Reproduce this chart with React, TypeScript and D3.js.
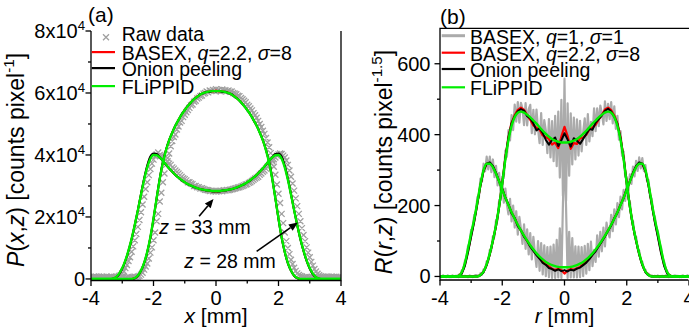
import { useRef, useEffect } from 'react';
import * as d3 from 'd3';

const W = 689;
const H = 333;
const FONT = '"Liberation Sans", Arial, Helvetica, sans-serif';
const FS = 20;

const GREEN = '#00ee00';
const RED = '#ff0000';
const GRAY_RAW = '#a0a0a0';
const GRAY_LINE = '#ababab';

// every series is sampled on x = -4 + i * step
const FIT_STEP = 0.1;
const RAW_STEP = 0.05;

const xTicks = [-4, -2, 0, 2, 4];
const xMinor = [-3, -1, 1, 3];

// ---------- panel (a): P(x,z), in units of 1e4 counts/pixel ----------
const aTicksY = [0, 2, 4, 6, 8];
const aMinorY = [1, 3, 5, 7];

const pInnerRaw = [
  0.05,0.03,0.07,0.04,0.06,0.08,0.03,0.05,0.07,0.04,0.06,0.02,0.05,0.08,0.04,0.06,0.03,0.07,0.05,0.04,0.08,0.06,0.03,0.05,0.07,0.04,0.06,0.05,0.07,
  0.06,0.08,0.1,0.14,0.2,0.3,0.4,0.5,0.66,0.85,
  1.02,1.25,1.5,1.86,2.1,2.5,2.78,3.12,3.4,3.68,
  3.9,4.05,4.28,4.45,4.58,4.66,4.82,4.92,5.05,5.1,
  5.22,5.3,5.38,5.45,5.52,5.6,5.63,5.72,5.75,5.82,
  5.85,5.9,5.92,5.98,6,6.05,6.02,6.08,6.06,6.1,
  6.07,6.12,6.08,6.1,6.05,6.11,6.07,6.09,6.06,6.08,
  6.04,6.05,6,5.98,5.96,5.91,5.9,5.84,5.8,5.75,
  5.7,5.62,5.57,5.5,5.44,5.35,5.28,5.2,5.1,5,
  4.9,4.78,4.68,4.55,4.4,4.25,4.06,3.85,3.62,3.36,
  3.05,2.75,2.45,2.1,1.8,1.5,1.22,1,0.8,0.62,
  0.48,0.36,0.26,0.18,0.13,0.1,0.08,
  0.06,0.05,0.07,0.04,0.06,0.03,0.05,0.08,0.04,0.06,0.05,0.03,0.07,0.05,0.04,0.06,0.08,0.05,0.03,0.06,0.04,0.07,0.05,0.06,0.04,
];
const pOuterRaw = [
  0.04,0.06,0.05,0.08,0.03,0.06,0.05,0.07,0.04,0.06,0.08,0.05,0.03,0.06,0.05,0.07,
  0.07,0.06,0.1,0.12,0.18,0.25,0.35,0.45,0.58,0.7,
  0.88,1.05,1.25,1.45,1.68,1.9,2.15,2.4,2.65,2.9,
  3.12,3.35,3.55,3.72,3.85,3.96,4.02,4.08,4,3.98,
  3.95,3.9,3.85,3.8,3.72,3.68,3.6,3.56,3.5,3.45,
  3.4,3.35,3.3,3.25,3.22,3.18,3.12,3.12,3.08,3.06,
  3,3,2.96,2.96,2.92,2.93,2.9,2.88,2.87,2.86,
  2.84,2.85,2.83,2.84,2.82,2.84,2.83,2.85,2.83,2.86,
  2.85,2.87,2.86,2.88,2.89,2.9,2.92,2.93,2.95,2.96,
  2.98,3,3.02,3.05,3.06,3.1,3.12,3.16,3.2,3.24,
  3.27,3.3,3.36,3.4,3.46,3.5,3.56,3.62,3.68,3.75,
  3.8,3.86,3.92,3.98,4.02,4.05,4.03,3.98,3.92,3.82,
  3.68,3.5,3.3,3.08,2.85,2.6,2.35,2.1,1.86,1.64,
  1.42,1.22,1.02,0.85,0.7,0.55,0.43,0.32,0.24,0.17,
  0.12,0.09,0.07,
  0.05,0.07,0.04,0.06,0.05,0.08,0.03,0.06,0.05,0.04,0.07,0.05,
];

const pInnerBasex = [
  0,0,0,0,0,0,0,0,0,0,0,0,0,0,
  0.03,0.1,0.27,0.51,0.87,1.34,1.94,2.6,3.23,3.76,4.16,4.47,4.73,4.94,5.14,5.3,5.46,5.58,5.71,5.8,5.89,5.95,6.01,6.03,6.06,6.05,
  6.08,
  6.05,6.06,6.03,6.01,5.95,5.89,5.8,5.71,5.58,5.46,5.3,5.14,4.94,4.73,4.47,4.16,3.76,3.23,2.6,1.94,1.34,0.87,0.51,0.27,0.1,0.03,
  0,0,0,0,0,0,0,0,0,0,0,0,0,0,
];
const pOuterBasex = [
  0,0,0,0,0,0,0,
  0.01,0.06,0.16,0.34,0.59,0.91,1.29,1.74,2.22,2.73,3.22,3.63,3.92,4.03,4.01,3.92,3.81,3.69,3.57,3.46,3.36,3.27,3.19,3.12,3.06,3.01,2.97,2.93,2.9,2.88,2.86,2.84,2.83,
  2.82,
  2.83,2.84,2.86,2.88,2.9,2.93,2.97,3.01,3.06,3.12,3.19,3.27,3.36,3.46,3.57,3.69,3.81,3.92,4.01,4.03,3.92,3.63,3.22,2.73,2.22,1.74,1.29,0.91,0.59,0.34,0.16,0.06,0.01,
  0,0,0,0,0,0,0,
];
const pInnerOnion = [
  0,0,0,0,0,0,0,0,0,0,0,0,0,0,
  0.02,0.1,0.26,0.5,0.86,1.33,1.93,2.6,3.24,3.78,4.17,4.48,4.72,4.95,5.12,5.31,5.44,5.59,5.69,5.81,5.87,5.96,5.99,6.04,6.03,6.07,
  6.05,
  6.07,6.03,6.04,5.99,5.96,5.87,5.81,5.69,5.59,5.44,5.31,5.12,4.95,4.72,4.48,4.17,3.78,3.24,2.6,1.93,1.33,0.86,0.5,0.26,0.1,0.02,
  0,0,0,0,0,0,0,0,0,0,0,0,0,0,
];
const pOuterOnion = [
  0,0,0,0,0,0,0,
  0.01,0.05,0.15,0.33,0.58,0.9,1.28,1.73,2.22,2.74,3.24,3.66,3.95,4.05,4.03,3.93,3.8,3.68,3.56,3.46,3.35,3.27,3.18,3.12,3.05,3.01,2.96,2.93,2.89,2.88,2.85,2.85,2.82,
  2.83,
  2.82,2.85,2.85,2.88,2.89,2.93,2.96,3.01,3.05,3.12,3.18,3.27,3.35,3.46,3.56,3.68,3.8,3.93,4.03,4.05,3.95,3.66,3.24,2.74,2.22,1.73,1.28,0.9,0.58,0.33,0.15,0.05,0.01,
  0,0,0,0,0,0,0,
];
const pInnerFit = [
  0,0,0,0,0,0,0,0,0,0,0,0,0,0,
  0.03,0.11,0.27,0.52,0.88,1.35,1.95,2.6,3.22,3.75,4.15,4.47,4.72,4.94,5.13,5.3,5.45,5.58,5.7,5.8,5.88,5.95,6,6.03,6.05,6.06,
  6.06,
  6.06,6.05,6.03,6,5.95,5.88,5.8,5.7,5.58,5.45,5.3,5.13,4.94,4.72,4.47,4.15,3.75,3.22,2.6,1.95,1.35,0.88,0.52,0.27,0.11,0.03,
  0,0,0,0,0,0,0,0,0,0,0,0,0,0,
];
const pOuterFit = [
  0,0,0,0,0,0,0,
  0.01,0.06,0.17,0.35,0.6,0.92,1.3,1.74,2.22,2.72,3.2,3.6,3.88,4,3.99,3.92,3.81,3.69,3.57,3.46,3.36,3.27,3.19,3.12,3.06,3.01,2.97,2.93,2.9,2.88,2.86,2.85,2.84,
  2.84,
  2.84,2.85,2.86,2.88,2.9,2.93,2.97,3.01,3.06,3.12,3.19,3.27,3.36,3.46,3.57,3.69,3.81,3.92,3.99,4,3.88,3.6,3.2,2.72,2.22,1.74,1.3,0.92,0.6,0.35,0.17,0.06,0.01,
  0,0,0,0,0,0,0,
];

// ---------- panel (b): R(r,z), counts/pixel^1.5 ----------
const bTicksY = [0, 200, 400, 600];
const bMinorY = [100, 300, 500];

const rBigGray = [
  2,-1,3,0,-2,2,1,-2,3,0,-1,2,-2,1,3,-1,2,0,-2,3,1,-2,2,4,
  3,0,9,5,20,20,43,44,75,75,
  114,113,160,158,216,215,282,278,355,338,
  413,384,455,413,485,437,492,434,490,474,
  427,489,426,472,484,404,470,401,471,416,
  376,461,371,441,412,348,444,336,438,325,
  453,311,465,279,498,228,558,213,488,284,
  460,316,448,330,443,341,439,353,407,446,
  371,458,381,436,396,474,410,474,424,482,
  461,429,494,439,487,444,492,432,480,416,
  453,386,410,340,352,281,280,218,213,160,
  157,115,112,77,73,45,41,21,19,6,
  8,1,3,
  -1,2,0,3,-2,1,2,-1,3,0,-2,2,1,-1,3,0,2,-2,1,3,0,-1,2,1,
];
const rRingGray = [
  1,-2,2,0,-1,3,-2,1,2,-1,
  2,-1,5,3,17,20,44,52,86,94,
  132,134,174,176,224,223,276,268,318,297,
  338,302,338,294,330,280,312,257,292,232,
  270,208,248,203,175,219,155,200,138,184,
  118,168,135,92,147,78,133,62,122,48,
  112,65,27,100,16,94,6,88,1,83,
  -2,84,-4,90,-4,103,-3,136,-4,206,
  346,196,-4,126,-3,108,-3,85,-3,84,
  -2,83,1,86,8,92,18,98,29,75,
  41,116,56,126,71,138,85,152,125,110,
  174,128,189,147,207,167,225,189,244,213,
  267,236,288,261,310,282,326,298,336,305,
  334,298,314,270,272,225,220,178,170,136,
  128,95,83,53,42,21,15,4,4,0,
  2,
  -1,2,0,1,-2,2,1,-1,3,0,
];
const rBigBasex = [
  0,0,0,0,0,0,0,0,0,0,0,0,0,
  4,13,33,63,101,143,197,263,336,393,434,455,470,476,470,455,442,426,420,414,398,393,388,372,378,362,395,
  422,
  396,360,376,374,390,392,400,415,420,428,443,456,471,476,469,454,432,392,335,263,197,143,101,63,33,13,4,
  0,0,0,0,0,0,0,0,0,0,0,0,0,
];
const rRingBasex = [
  0,0,0,0,0,0,
  2,10,34,72,116,158,207,258,299,318,320,310,291,268,246,222,202,180,164,144,130,114,100,86,74,62,52,42,34,28,22,18,22,18,
  8,
  17,21,19,23,27,34,42,51,62,74,86,100,114,130,145,164,181,202,222,246,268,291,310,320,318,299,258,207,158,116,72,34,10,2,
  0,0,0,0,0,0,
];
const rBigOnion = [
  0,0,0,0,0,0,0,0,0,0,0,0,0,
  3,12,32,62,100,142,196,262,335,392,432,452,466,472,468,452,446,432,412,418,405,385,372,385,392,368,384,
  404,
  386,366,390,383,374,388,402,416,414,434,444,454,467,473,465,450,430,390,334,262,196,142,100,62,32,12,3,
  0,0,0,0,0,0,0,0,0,0,0,0,0,
];
const rRingOnion = [
  0,0,0,0,0,0,
  1,8,30,68,112,155,205,256,298,318,322,312,292,268,248,222,203,178,165,142,130,112,100,84,72,60,50,38,33,24,21,16,20,15,
  18,
  14,19,17,22,25,32,39,49,61,71,85,99,113,129,144,164,180,202,221,247,268,293,312,322,318,297,255,204,154,111,67,30,8,1,
  0,0,0,0,0,0,
];
const rBigFit = [
  0,0,0,0,0,0,0,0,0,0,0,0,0,
  4,14,35,65,102,145,198,262,330,385,425,450,462,465,462,456,449,440,431,421,411,402,394,388,383,380,378,
  378,
  378,380,383,388,394,402,411,421,431,440,449,456,462,465,462,450,425,385,330,262,198,145,102,65,35,14,4,
  0,0,0,0,0,0,0,0,0,0,0,0,0,
];
const rRingFit = [
  0,0,0,0,0,0,
  2,12,38,78,122,162,210,260,300,318,318,308,290,268,245,222,201,181,163,146,130,115,101,88,76,65,56,48,41,36,32,29,27,26,
  26,
  26,27,29,32,36,41,48,56,65,76,88,101,115,130,146,163,181,201,222,245,268,290,308,318,318,300,260,210,162,122,78,38,12,2,
  0,0,0,0,0,0,
];

// text pieces: [text, style] with '' plain, 'i' italic, 's' superscript
type Seg = [string, string];
const legendA: Seg[][] = [
  [['Raw data', '']],
  [['BASEX, ', ''], ['q', 'i'], ['=2.2, ', ''], ['σ', 'i'], ['=8', '']],
  [['Onion peeling', '']],
  [['FLiPPID', '']],
];
const legendB: Seg[][] = [
  [['BASEX, ', ''], ['q', 'i'], ['=1, ', ''], ['σ', 'i'], ['=1', '']],
  [['BASEX, ', ''], ['q', 'i'], ['=2.2, ', ''], ['σ', 'i'], ['=8', '']],
  [['Onion peeling', '']],
  [['FLiPPID', '']],
];
const titleYA: Seg[] = [['P', 'i'], ['(', ''], ['x', 'i'], [',', ''], ['z', 'i'], [') [counts pixel', ''], ['-1', 's'], [']', '']];
const titleYB: Seg[] = [['R', 'i'], ['(', ''], ['r', 'i'], [',', ''], ['z', 'i'], [') [counts pixel', ''], ['-1.5', 's'], [']', '']];
const titleXA: Seg[] = [['x', 'i'], [' [mm]', '']];
const titleXB: Seg[] = [['r', 'i'], [' [mm]', '']];

// arrows in panel (a) data units: tail -> head, label anchor
const notes = [
  { label: '33', tail: [-0.54, 2.02], head: [-0.08, 2.58], at: [-0.35, 1.45] },
  { label: '28', tail: [1.3, 0.89], head: [2.62, 1.82], at: [0.45, 0.35] },
];

function rich(text: any, segs: Seg[], fs: number) {
  let up = false;
  segs.forEach(([t, st]) => {
    const ts = text.append('tspan').text(t);
    if (st === 'i') ts.attr('font-style', 'italic');
    if (st === 's') {
      ts.attr('font-size', fs * 0.66).attr('dy', -fs * 0.42);
      up = true;
    } else if (up) {
      ts.attr('dy', fs * 0.42);
      up = false;
    }
  });
}

export default function App() {
  const ref = useRef<SVGSVGElement>(null);

  useEffect(() => {
    document.body.style.margin = '0';
    const svg = d3.select(ref.current);
    svg.selectAll('*').remove();
    svg.attr('font-family', FONT).attr('font-size', FS);

    const xa = d3.scaleLinear().domain([-4, 4]).range([91, 341]);
    const ya = d3.scaleLinear().domain([-0.05, 8]).range([280.5, 31]);
    const xb = d3.scaleLinear().domain([-4, 4]).range([440, 689]);
    const yb = d3.scaleLinear().domain([-10, 700]).range([280, 28.3]);

    const defs = svg.append('defs');
    defs.append('clipPath').attr('id', 'clipA').append('rect')
      .attr('x', xa(-4)).attr('y', ya(8)).attr('width', xa(4) - xa(-4)).attr('height', ya(-0.05) - ya(8));
    defs.append('clipPath').attr('id', 'clipB').append('rect')
      .attr('x', xb(-4)).attr('y', yb(700)).attr('width', xb(4) - xb(-4)).attr('height', yb(-10) - yb(700));

    const lineOf = (x: any, y: any, step: number, curve: any) =>
      d3.line<number>().x((_, i) => x(-4 + i * step)).y(d => y(d)).curve(curve);

    const draw = (g: any, d: string | null, color: string, w: number) =>
      g.append('path').attr('d', d).attr('fill', 'none').attr('stroke', color)
        .attr('stroke-width', w).attr('stroke-linejoin', 'round');

    // ---- panel (a) marks
    const ga = svg.append('g').attr('clip-path', 'url(#clipA)');
    const cross = (vals: number[]) => vals.map((v, i) => {
      const px = xa(-4 + i * RAW_STEP), py = ya(v), s = 3;
      return `M${px - s},${py - s}L${px + s},${py + s}M${px - s},${py + s}L${px + s},${py - s}`;
    }).join('');
    ga.append('path').attr('d', cross(pOuterRaw) + cross(pInnerRaw))
      .attr('stroke', GRAY_RAW).attr('stroke-width', 1.3).attr('fill', 'none');

    const fitA = lineOf(xa, ya, FIT_STEP, d3.curveMonotoneX);
    [pOuterBasex, pInnerBasex].forEach(s => draw(ga, fitA(s), RED, 2));
    [pOuterOnion, pInnerOnion].forEach(s => draw(ga, fitA(s), '#000', 2));
    [pOuterFit, pInnerFit].forEach(s => draw(ga, fitA(s), GREEN, 2.4));

    // ---- panel (b) marks
    const gb = svg.append('g').attr('clip-path', 'url(#clipB)');
    const rawB = lineOf(xb, yb, RAW_STEP, d3.curveLinear);
    const wig = lineOf(xb, yb, FIT_STEP, d3.curveLinear);
    const fitB = lineOf(xb, yb, FIT_STEP, d3.curveMonotoneX);
    [rRingGray, rBigGray].forEach(s => draw(gb, rawB(s), GRAY_LINE, 2.2));
    [rRingBasex, rBigBasex].forEach(s => draw(gb, wig(s), RED, 2.2));
    [rRingOnion, rBigOnion].forEach(s => draw(gb, wig(s), '#000', 2));
    [rRingFit, rBigFit].forEach(s => draw(gb, fitB(s), GREEN, 2.4));

    // ---- axes
    const frame = (d: string) => svg.append('path').attr('d', d).attr('fill', 'none')
      .attr('stroke', '#000').attr('stroke-width', 1.3);
    frame(`M${xa(-4)},${ya(8)}V${ya(-0.05)}H${xa(4)}V${ya(8)}`);
    frame(`M${xb(4) - 0.7},${yb(-10)}H${xb(-4)}V${yb(700)}H${xb(4)}`);

    const ticksX = (x: any, y0: number) => {
      xTicks.forEach(v => frame(`M${x(v)},${y0}v5.5`));
      xMinor.forEach(v => frame(`M${x(v)},${y0}v3`));
      xTicks.forEach(v => svg.append('text').attr('x', x(v)).attr('y', y0 + 24.5)
        .attr('text-anchor', 'middle').text(String(v)));
    };
    ticksX(xa, ya(-0.05));
    ticksX(xb, yb(-10));

    aTicksY.forEach(v => {
      frame(`M${xa(-4)},${ya(v)}h-5.5`);
      const t = svg.append('text').attr('x', 85).attr('y', ya(v) + 7).attr('text-anchor', 'end');
      if (v === 0) t.text('0');
      else rich(t, [[`${v}x10`, ''], ['4', 's']], FS);
    });
    aMinorY.forEach(v => frame(`M${xa(-4)},${ya(v)}h-3`));

    bTicksY.forEach(v => {
      frame(`M${xb(-4)},${yb(v)}h-5.5`);
      svg.append('text').attr('x', xb(-4) - 9.5).attr('y', yb(v) + 7)
        .attr('text-anchor', 'end').text(String(v));
    });
    bMinorY.forEach(v => frame(`M${xb(-4)},${yb(v)}h-3`));

    // axis titles
    const TF = 21;
    const YF = 23;
    rich(svg.append('text').attr('x', xa(0)).attr('y', 323).attr('text-anchor', 'middle').attr('font-size', TF), titleXA, TF);
    rich(svg.append('text').attr('x', xb(0)).attr('y', 323).attr('text-anchor', 'middle').attr('font-size', TF), titleXB, TF);
    rich(svg.append('text').attr('transform', 'translate(24,160) rotate(-90)')
      .attr('text-anchor', 'middle').attr('font-size', YF), titleYA, YF);
    rich(svg.append('text').attr('transform', 'translate(391.5,162) rotate(-90)')
      .attr('text-anchor', 'middle').attr('font-size', YF), titleYB, YF);

    svg.append('text').attr('x', 88).attr('y', 22).attr('font-size', 21).text('(a)');
    svg.append('text').attr('x', 440).attr('y', 23.5).attr('font-size', 21).text('(b)');

    // ---- legends
    const LF = 19.5;
    const baseA = [41.3, 59.6, 75.6, 93.6];
    legendA.forEach((segs, i) => {
      const y = baseA[i];
      if (i === 0) {
        const px = 106, py = y - 4, s = 3;
        svg.append('path').attr('d', `M${px - s},${py - s}L${px + s},${py + s}M${px - s},${py + s}L${px + s},${py - s}`)
          .attr('stroke', GRAY_RAW).attr('stroke-width', 1.3);
      } else {
        const c = [RED, '#000', GREEN][i - 1];
        svg.append('line').attr('x1', 91.7).attr('x2', 115).attr('y1', y - 7.5).attr('y2', y - 7.5)
          .attr('stroke', c).attr('stroke-width', 2.2);
      }
      rich(svg.append('text').attr('x', 121.7).attr('y', y).attr('font-size', LF), segs, LF);
    });

    const baseB = [43.7, 60.7, 77, 95.3];
    const colB = [GRAY_LINE, RED, '#000', GREEN];
    legendB.forEach((segs, i) => {
      const y = baseB[i];
      svg.append('line').attr('x1', 441.7).attr('x2', 465).attr('y1', y - 8).attr('y2', y - 8)
        .attr('stroke', colB[i]).attr('stroke-width', i === 0 ? 3 : 2.2);
      rich(svg.append('text').attr('x', 470).attr('y', y).attr('font-size', LF), segs, LF);
    });

    // ---- arrows with z labels
    notes.forEach(n => {
      const x1 = xa(n.tail[0]), y1 = ya(n.tail[1]);
      const x2 = xa(n.head[0]), y2 = ya(n.head[1]);
      const ang = Math.atan2(y2 - y1, x2 - x1);
      const hl = 9, hw = 3.8;
      const bx = x2 - hl * Math.cos(ang), by = y2 - hl * Math.sin(ang);
      svg.append('line').attr('x1', x1).attr('y1', y1).attr('x2', bx).attr('y2', by)
        .attr('stroke', '#000').attr('stroke-width', 1.6);
      svg.append('path')
        .attr('d', `M${x2},${y2}L${bx + hw * Math.sin(ang)},${by - hw * Math.cos(ang)}L${bx - hw * Math.sin(ang)},${by + hw * Math.cos(ang)}Z`)
        .attr('fill', '#000');
      rich(svg.append('text').attr('x', xa(n.at[0])).attr('y', ya(n.at[1])).attr('text-anchor', 'middle').attr('font-size', 19.5),
        [['z', 'i'], [` = ${n.label} mm`, '']], 19.5);
    });
  }, []);

  return <svg ref={ref} width={W} height={H} style={{ display: 'block', background: '#fff' }} />;
}
